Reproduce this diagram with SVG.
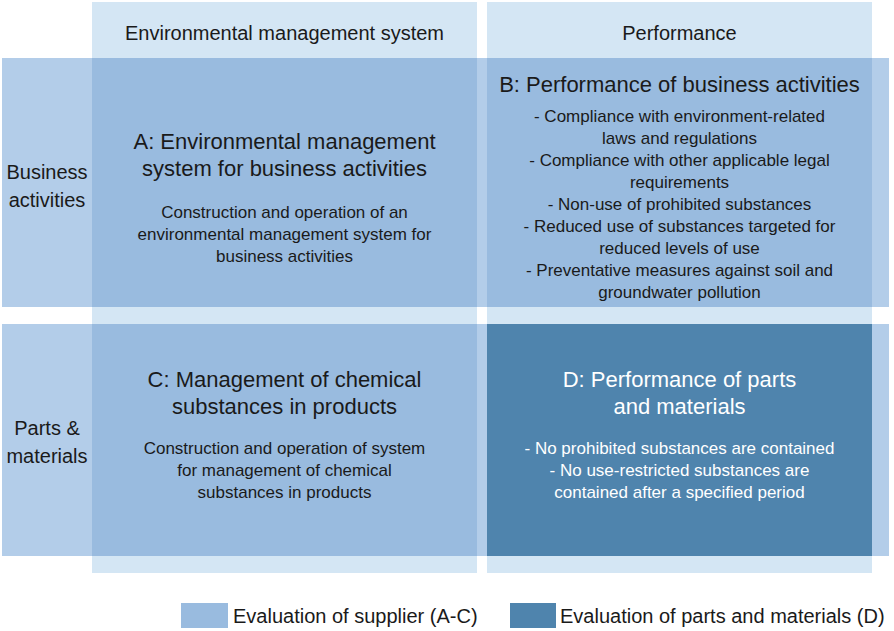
<svg xmlns="http://www.w3.org/2000/svg" width="894" height="631" viewBox="0 0 894 631">
<style>
text{font-family:"Liberation Sans",Arial,sans-serif;fill:#1a1a1a;text-anchor:middle}
.hdr{font-size:20px}
.lbl{font-size:20px}
.ttl{font-size:22px}
.sub{font-size:17px}
.wht{fill:#ffffff}
.leg{font-size:20px;text-anchor:start}
.col{fill:#d4e6f4}
.row{fill:#b3cde9}
.cell{fill:#99bbdf}
.cellD{fill:#4f84ad}
</style>
<rect width="894" height="631" fill="#ffffff"/>
<g id="bands">
<rect class="col" x="92" y="2" width="385" height="571"/>
<rect class="col" x="487" y="2" width="385" height="571"/>
<rect class="row" x="2" y="58" width="887" height="249"/>
<rect class="row" x="2" y="324" width="887" height="232"/>
</g>
<g id="header-ems">
<text class="hdr" x="284.5" y="40">Environmental management system</text>
</g>
<g id="header-performance">
<text class="hdr" x="679.5" y="40">Performance</text>
</g>
<g id="row-business">
<text class="lbl" x="47" y="179">Business</text>
<text class="lbl" x="47" y="207">activities</text>
</g>
<g id="row-parts">
<text class="lbl" x="47" y="435">Parts &amp;</text>
<text class="lbl" x="47" y="463">materials</text>
</g>
<g id="node-A">
<rect class="cell" x="92" y="58" width="385" height="249"/>
<text class="ttl" x="284.5" y="149">A: Environmental management</text>
<text class="ttl" x="284.5" y="176">system for business activities</text>
<text class="sub" x="284.5" y="218">Construction and operation of an</text>
<text class="sub" x="284.5" y="240">environmental management system for</text>
<text class="sub" x="284.5" y="262">business activities</text>
</g>
<g id="node-B">
<rect class="cell" x="487" y="58" width="385" height="249"/>
<text class="ttl" x="679.5" y="92">B: Performance of business activities</text>
<text class="sub" x="679.5" y="122">- Compliance with environment-related</text>
<text class="sub" x="679.5" y="144">laws and regulations</text>
<text class="sub" x="679.5" y="166">- Compliance with other applicable legal</text>
<text class="sub" x="679.5" y="188">requirements</text>
<text class="sub" x="679.5" y="210">- Non-use of prohibited substances</text>
<text class="sub" x="679.5" y="232">- Reduced use of substances targeted for</text>
<text class="sub" x="679.5" y="254">reduced levels of use</text>
<text class="sub" x="679.5" y="276">- Preventative measures against soil and</text>
<text class="sub" x="679.5" y="298">groundwater pollution</text>
</g>
<g id="node-C">
<rect class="cell" x="92" y="324" width="385" height="232"/>
<text class="ttl" x="284.5" y="387">C: Management of chemical</text>
<text class="ttl" x="284.5" y="414">substances in products</text>
<text class="sub" x="284.5" y="454">Construction and operation of system</text>
<text class="sub" x="284.5" y="476">for management of chemical</text>
<text class="sub" x="284.5" y="498">substances in products</text>
</g>
<g id="node-D">
<rect class="cellD" x="487" y="324" width="385" height="232"/>
<text class="ttl wht" x="679.5" y="387">D: Performance of parts</text>
<text class="ttl wht" x="679.5" y="414">and materials</text>
<text class="sub wht" x="679.5" y="454">- No prohibited substances are contained</text>
<text class="sub wht" x="679.5" y="476">- No use-restricted substances are</text>
<text class="sub wht" x="679.5" y="498">contained after a specified period</text>
</g>
<g id="connectors"></g>
<g id="legend">
<rect class="cell" x="181" y="603" width="47" height="25"/>
<text class="leg" x="233" y="623">Evaluation of supplier (A-C)</text>
<rect class="cellD" x="510" y="603" width="46" height="25"/>
<text class="leg" x="560" y="623">Evaluation of parts and materials (D)</text>
</g>
</svg>
